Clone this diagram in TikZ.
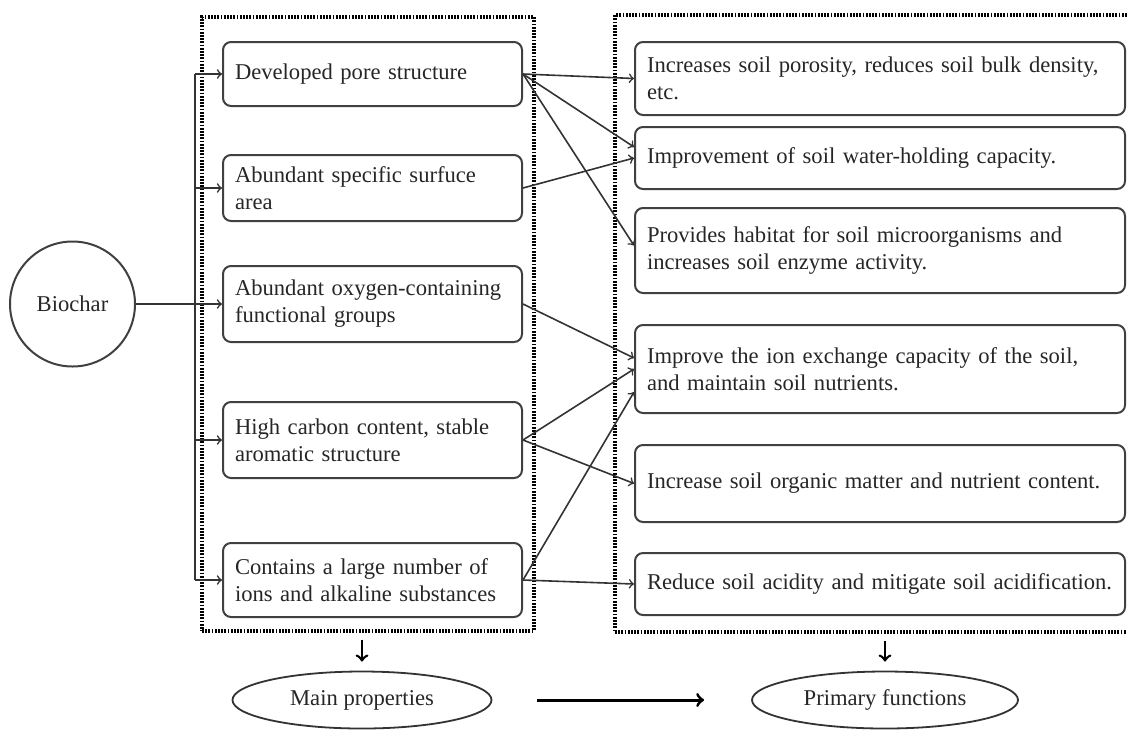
\documentclass[tikz,border=0pt]{standalone}
\usepackage{fontspec}
\setmainfont{Liberation Serif}
\usetikzlibrary{shapes.geometric,arrows}

\begin{document}
\begin{tikzpicture}[x=0.5pt,y=-0.5pt,>=to,
  every node/.style={font=\fontsize{11.3}{13.5}\selectfont, text=black!85},
  prop/.style={draw=black!75, line width=1pt, rounded corners=4pt, align=left, inner xsep=6pt, text width=137.5pt},
  func/.style={prop, text width=233pt},
  oval/.style={ellipse, draw=black!80, line width=0.9pt, minimum height=28.5pt},
  frame/.style={draw=black, line width=1.6pt, dash pattern=on 0.9pt off 0.7pt, minimum width=#1},
  link/.style={->, line width=0.8pt, black!80},
  down/.style={->, line width=1.3pt, black}]
  \useasboundingbox (0,0) rectangle (1127,729);

  % frames
  \node[frame=166pt, minimum height=307pt] (lf) at (368,324) {};
  \node[frame=262.5pt, minimum height=308.5pt] (rf) at (877.5,323.5) {};

  % properties and functions
  \node[circle, draw=black!75, line width=1pt, minimum size=62.5pt] (bio) at (72.5,304) {Biochar};
  \node[prop, minimum height=32pt] (p1) at (372.5,74) {Developed pore structure};
  \node[prop, minimum height=33pt] (p2) at (372.5,188) {Abundant specific surfuce\\area};
  \node[prop, minimum height=38pt] (p3) at (372.5,304) {Abundant oxygen-containing\\functional groups};
  \node[prop, minimum height=38pt] (p4) at (372.5,440) {High carbon content, stable\\aromatic structure};
  \node[prop, minimum height=37pt] (p5) at (372.5,580) {Contains a large number of\\ions and alkaline substances};

  \node[func, minimum height=36.5pt] (f1) at (880,78.5) {Increases soil porosity, reduces soil bulk density,\\etc.};
  \node[func, minimum height=31pt] (f2) at (880,158) {Improvement of soil water-holding capacity.};
  \node[func, minimum height=42.5pt] (f3) at (880,250.5) {Provides habitat for soil microorganisms and\\increases soil enzyme activity.};
  \node[func, minimum height=44pt] (f4) at (880,369) {Improve the ion exchange capacity of the soil,\\and maintain soil nutrients.};
  \node[func, minimum height=38.5pt] (f5) at (880,483.5) {Increase soil organic matter and nutrient content.};
  \node[func, minimum height=31pt] (f6) at (880,584) {Reduce soil acidity and mitigate soil acidification.};

  \node[oval, minimum width=129.5pt] (mp) at (362,700) {Main properties};
  \node[oval, minimum width=133pt] (pf) at (885,700) {Primary functions};

  % biochar branches
  \coordinate (trunk) at (195,0);
  \draw[line width=0.8pt, black!80] (p1.west -| trunk) -- (p5.west -| trunk);
  \draw[link] (bio.east) -- (p3.west);
  \foreach \n in {1,2,4,5}
    \draw[link] (p\n.west -| trunk) -- (p\n.west);

  \path[link]
  (p1.east) edge (f1.west) edge ([yshift=5.5pt]f2.west) edge ([yshift=2.5pt]f3.west)
  (p2.east) edge (f2.west)
  (p3.east) edge ([yshift=5.5pt]f4.west)
  (p4.east) edge (f4.west) edge (f5.west)
  (p5.east) edge ([yshift=-11.5pt]f4.west) edge (f6.west);

  \draw[down, shorten <=3.5pt, shorten >=4.5pt] (lf.south -| mp) -- (mp.north);
  \draw[down, shorten <=3.5pt, shorten >=4.5pt] (rf.south -| pf) -- (pf.north);
  \draw[down, line width=1.5pt, shorten <=22.5pt, shorten >=23.5pt] (mp.east) -- (pf.west);
\end{tikzpicture}
\end{document}
